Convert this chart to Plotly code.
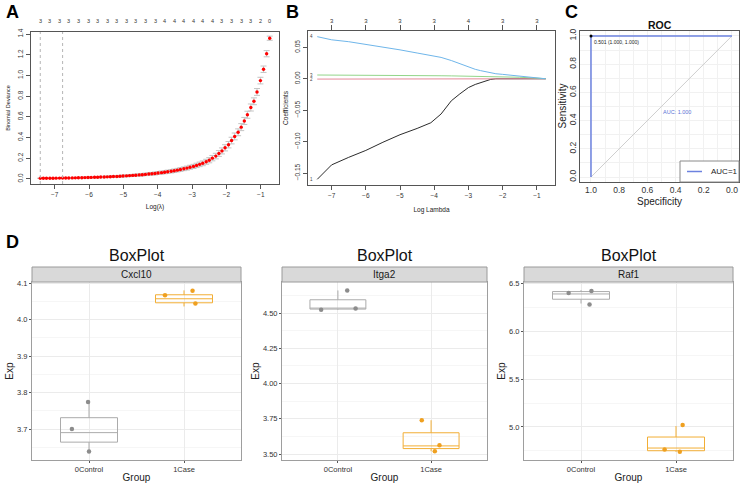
import plotly.graph_objects as go

W, H = 741, 483
FONT = "Liberation Sans, Arial, Helvetica, sans-serif"

# ---------------- Panel A : cv.glmnet deviance ----------------
log_lambda = [-7.42, -7.33, -7.24, -7.14, -7.05, -6.96, -6.86, -6.77, -6.68, -6.59,
              -6.49, -6.40, -6.31, -6.21, -6.12, -6.03, -5.94, -5.84, -5.75, -5.66,
              -5.56, -5.47, -5.38, -5.29, -5.19, -5.10, -5.01, -4.91, -4.82, -4.73,
              -4.64, -4.54, -4.45, -4.36, -4.26, -4.17, -4.08, -3.99, -3.89, -3.80,
              -3.71, -3.61, -3.52, -3.43, -3.34, -3.24, -3.15, -3.06, -2.96, -2.87,
              -2.78, -2.69, -2.59, -2.50, -2.41, -2.31, -2.22, -2.13, -2.04, -1.94,
              -1.85, -1.76, -1.66, -1.57, -1.48, -1.39, -1.29, -1.20, -1.11, -1.01,
              -0.92, -0.83, -0.74]
cv_mean = [0.005, 0.0052, 0.0054, 0.0057, 0.006, 0.0065, 0.007, 0.0075, 0.008, 0.0085,
           0.009, 0.0095, 0.010, 0.011, 0.012, 0.013, 0.014, 0.015, 0.016, 0.017,
           0.018, 0.019, 0.020, 0.022, 0.023, 0.025, 0.027, 0.029, 0.031, 0.033,
           0.035, 0.038, 0.040, 0.043, 0.046, 0.049, 0.052, 0.056, 0.060, 0.064,
           0.068, 0.073, 0.078, 0.084, 0.090, 0.097, 0.104, 0.112, 0.120, 0.130,
           0.140, 0.150, 0.165, 0.180, 0.200, 0.220, 0.245, 0.270, 0.300, 0.330,
           0.370, 0.410, 0.450, 0.500, 0.560, 0.620, 0.690, 0.750, 0.840, 0.950,
           1.060, 1.210, 1.360]
cv_se = [0.002, 0.002, 0.002, 0.002, 0.002, 0.002, 0.003, 0.003, 0.003, 0.003,
         0.003, 0.004, 0.004, 0.004, 0.004, 0.005, 0.005, 0.005, 0.006, 0.006,
         0.006, 0.007, 0.007, 0.007, 0.008, 0.008, 0.009, 0.009, 0.010, 0.010,
         0.011, 0.011, 0.012, 0.012, 0.013, 0.013, 0.014, 0.014, 0.015, 0.015,
         0.016, 0.016, 0.017, 0.017, 0.018, 0.018, 0.019, 0.019, 0.020, 0.021,
         0.022, 0.023, 0.024, 0.025, 0.026, 0.027, 0.028, 0.029, 0.030, 0.031,
         0.032, 0.033, 0.033, 0.034, 0.034, 0.034, 0.034, 0.033, 0.033, 0.032,
         0.031, 0.030, 0.020]
# number of non-zero coefficients, labelled at every 3rd lambda
nzero_top = [3, 3, 3, 3, 3, 3, 3, 3, 3, 3, 3, 3, 3,
             4, 4, 4, 4, 4, 4,
             3, 3, 3, 3, 2, 0]
lambda_min_idx = 0
lambda_1se_idx = 7
A_xticks = [-7, -6, -5, -4, -3, -2, -1]
A_yticks = [0.0, 0.2, 0.4, 0.6, 0.8, 1.0, 1.2, 1.4]

# ---------------- Panel B : coefficient paths ----------------
path_loglambda = [-7.42, -7.0, -6.5, -6.0, -5.5, -5.0, -4.5, -4.1, -3.8, -3.5,
                  -3.25, -3.0, -2.8, -2.65, -2.5, -2.35, -2.2, -2.0, -1.5, -1.0, -0.74]
coef_1 = [-0.160, -0.137, -0.125, -0.114, -0.101, -0.089, -0.079, -0.070, -0.056, -0.035,
          -0.024, -0.014, -0.009, -0.006, -0.003, -0.001, 0.0, 0.0, 0.0, 0.0, 0.0]
coef_2 = [-0.0005, -0.0005, -0.0005, -0.0005, -0.0005, -0.0005, -0.0005, -0.0005, -0.0005, -0.0005,
          -0.0004, -0.0003, -0.0002, -0.0001, 0.0, 0.0, 0.0, 0.0, 0.0, 0.0, 0.0]
coef_3 = [0.0060, 0.0060, 0.0059, 0.0058, 0.0056, 0.0054, 0.0052, 0.0050, 0.0048, 0.0046,
          0.0044, 0.0042, 0.0040, 0.0039, 0.0037, 0.0036, 0.0034, 0.0032, 0.0024, 0.0010, 0.0]
coef_4 = [0.067, 0.062, 0.059, 0.055, 0.051, 0.046, 0.041, 0.037, 0.034, 0.029,
          0.024, 0.018, 0.015, 0.013, 0.011, 0.0095, 0.008, 0.007, 0.004, 0.0015, 0.0]
coef_names = ["1", "2", "3", "4"]
coef_colors = ["#2b2b2b", "#E58A9A", "#93D68A", "#6FB6EA"]
B_xticks = [-7, -6, -5, -4, -3, -2, -1]
B_top_df = [3, 3, 3, 3, 4, 3, 3]
B_yticks = [-0.15, -0.10, -0.05, 0.00, 0.05]

# ---------------- Panel C : ROC ----------------
roc_spec = [1.0, 1.0, 0.0]
roc_sens = [0.0, 1.0, 1.0]
best_threshold = 0.501
best_spec, best_sens = 1.0, 1.0
auc_value = 1.0
C_ticks = [1.0, 0.8, 0.6, 0.4, 0.2, 0.0]

# ---------------- Panel D : box plots ----------------
genes = ["Cxcl10", "Itga2", "Raf1"]
groups = ["0Control", "1Case"]
box_q1 = {"Cxcl10": [3.664, 4.046], "Itga2": [4.528, 3.539], "Raf1": [6.335, 4.752]}
box_median = {"Cxcl10": [3.690, 4.057], "Itga2": [4.533, 3.558], "Raf1": [6.390, 4.780]}
box_q3 = {"Cxcl10": [3.731, 4.068], "Itga2": [4.594, 3.651], "Raf1": [6.415, 4.895]}
box_low = {"Cxcl10": [3.642, 4.036], "Itga2": [4.523, 3.520], "Raf1": [6.290, 4.740]}
box_high = {"Cxcl10": [3.774, 4.080], "Itga2": [4.660, 3.740], "Raf1": [6.430, 5.010]}
pts_exp = {
    "Cxcl10": [[3.774, 3.700, 3.638], [4.067, 4.079, 4.044]],
    "Itga2": [[4.523, 4.533, 4.660], [3.740, 3.562, 3.520]],
    "Raf1": [[6.400, 6.420, 6.280], [4.766, 4.740, 5.020]],
}
pts_jitter = {
    "Cxcl10": [[-0.01, -0.18, 0.00], [-0.20, 0.09, 0.12]],
    "Itga2": [[-0.18, 0.19, 0.10], [-0.10, 0.09, 0.04]],
    "Raf1": [[-0.13, 0.11, 0.09], [-0.12, 0.04, 0.07]],
}
D_yticks = {"Cxcl10": [3.7, 3.8, 3.9, 4.0, 4.1],
            "Itga2": [3.50, 3.75, 4.00, 4.25, 4.50],
            "Raf1": [5.0, 5.5, 6.0, 6.5]}
D_yfmt = {"Cxcl10": ".1f", "Itga2": ".2f", "Raf1": ".1f"}
D_yrange = {"Cxcl10": [3.615, 4.103], "Itga2": [3.458, 4.72], "Raf1": [4.655, 6.515]}
group_line = ["#ABABAB", "#F2AE35"]
group_point = ["#8C8C8C", "#EFA020"]


def px_x(p):
    return p / W


def px_y(p):
    return 1 - p / H


fig = go.Figure()

# ---- A traces
fig.add_trace(go.Scatter(
    x=log_lambda, y=cv_mean, mode="markers",
    marker=dict(color="#FF0000", size=3.4),
    error_y=dict(type="data", array=cv_se, color="#C4C4C4", thickness=1, width=3),
    xaxis="x", yaxis="y", showlegend=False, hoverinfo="skip"))

# ---- B traces
for name, vals, col in zip(coef_names, [coef_1, coef_2, coef_3, coef_4], coef_colors):
    fig.add_trace(go.Scatter(
        x=path_loglambda, y=vals, mode="lines", line=dict(color=col, width=1),
        xaxis="x2", yaxis="y2", showlegend=False, hoverinfo="skip"))
fig.add_trace(go.Scatter(
    x=B_xticks, y=[0] * len(B_xticks), mode="markers", marker=dict(opacity=0),
    xaxis="x8", yaxis="y2", showlegend=False, hoverinfo="skip"))

# ---- C traces
fig.add_trace(go.Scatter(
    x=[roc_spec[0], roc_spec[-1]], y=[roc_sens[0], roc_sens[-1]], mode="lines",
    line=dict(color="#CFCFCF", width=1), xaxis="x3", yaxis="y3",
    showlegend=False, hoverinfo="skip"))
ROC_BLUE = "#6C82DF"
fig.add_trace(go.Scatter(
    x=roc_spec, y=roc_sens, mode="lines", line=dict(color=ROC_BLUE, width=1.5),
    name="AUC=%g" % auc_value, xaxis="x3", yaxis="y3", showlegend=False, hoverinfo="skip"))
fig.add_trace(go.Scatter(
    x=[best_spec], y=[best_sens], mode="markers", marker=dict(color="black", size=3),
    xaxis="x3", yaxis="y3", showlegend=False, hoverinfo="skip"))

# ---- D traces
for k, g in enumerate(genes):
    ax = str(4 + k)
    for j, grp in enumerate(groups):
        fig.add_trace(go.Box(
            x=[j], q1=[box_q1[g][j]], median=[box_median[g][j]], q3=[box_q3[g][j]],
            lowerfence=[box_low[g][j]], upperfence=[box_high[g][j]],
            width=0.6, whiskerwidth=0, fillcolor="rgba(255,255,255,0)",
            line=dict(color=group_line[j], width=1), boxpoints=False,
            xaxis="x" + ax, yaxis="y" + ax, showlegend=False, hoverinfo="skip"))
        fig.add_trace(go.Scatter(
            x=[j + d for d in pts_jitter[g][j]], y=pts_exp[g][j], mode="markers",
            marker=dict(color=group_point[j], size=4.5),
            xaxis="x" + ax, yaxis="y" + ax, showlegend=False, hoverinfo="skip"))

base_ax = dict(showline=True, mirror=True, linecolor="#555555", linewidth=1,
               ticks="outside", ticklen=4, tickcolor="#555555", showgrid=False,
               zeroline=False, automargin=False,
               tickfont=dict(size=6.5, color="#333333", family=FONT))
xr = [-7.69, -0.47]

layout = dict(
    width=W, height=H, margin=dict(l=0, r=0, t=0, b=0),
    paper_bgcolor="white", plot_bgcolor="white",
    font=dict(family=FONT, color="#222222"),
    showlegend=False,
    # Panel A
    xaxis=dict(base_ax, domain=[px_x(31), px_x(279)], anchor="y", range=xr,
               tickvals=A_xticks,
               title=dict(text="Log(λ)", font=dict(size=6.5), standoff=7)),
    yaxis=dict(base_ax, domain=[px_y(184), px_y(32)], anchor="x", range=[-0.05, 1.42],
               tickvals=A_yticks, tickformat=".1f", tickangle=-90,
               title=dict(text="Binomial Deviance", font=dict(size=5.5), standoff=6)),
    # Panel B
    xaxis2=dict(base_ax, domain=[px_x(308), px_x(555)], anchor="y2", range=xr,
                tickvals=B_xticks,
                title=dict(text="Log Lambda", font=dict(size=6.5), standoff=9)),
    yaxis2=dict(base_ax, domain=[px_y(185), px_y(31)], anchor="x2", range=[-0.169, 0.076],
                tickvals=B_yticks, tickformat=".2f", tickangle=-90,
                title=dict(text="Coefficients", font=dict(size=6.5), standoff=5)),
    xaxis8=dict(overlaying="x2", anchor="y2", side="top", range=xr, showline=False,
                ticks="outside", ticklen=5, tickcolor="#555555",
                tickvals=B_xticks, ticktext=[str(v) for v in B_top_df],
                tickfont=dict(size=6, color="#333333"), showgrid=False,
                zeroline=False, automargin=False),
    # Panel C
    xaxis3=dict(base_ax, domain=[px_x(580), px_x(739)], anchor="y3", range=[1.078, -0.05],
                tickvals=C_ticks, tickformat=".1f", ticks="",
                tickfont=dict(size=8.5, color="#333333"),
                showgrid=True, gridcolor="#F1F1F1",
                minor=dict(dtick=0.1, showgrid=True, gridcolor="#F1F1F1")),
    yaxis3=dict(base_ax, domain=[px_y(182), px_y(31)], anchor="x3", range=[-0.035, 1.035],
                tickvals=C_ticks, tickformat=".1f", tickangle=-90, ticks="",
                tickfont=dict(size=8.5, color="#333333"),
                showgrid=True, gridcolor="#F1F1F1",
                minor=dict(dtick=0.1, showgrid=True, gridcolor="#F1F1F1")),
)

D_xdom = [(32, 241), (282, 487), (524, 733)]
for k, g in enumerate(genes):
    ax = str(4 + k)
    ticks_y = D_yticks[g]
    minor_vals = [(a + b) / 2 for a, b in zip(ticks_y[:-1], ticks_y[1:])]
    step = ticks_y[1] - ticks_y[0]
    minor_vals = [ticks_y[0] - step / 2] + minor_vals + [ticks_y[-1] + step / 2]
    layout["xaxis" + ax] = dict(
        domain=[px_x(D_xdom[k][0]), px_x(D_xdom[k][1])], anchor="y" + ax,
        range=[-0.6, 1.6], tickvals=[0, 1], ticktext=groups,
        showline=True, mirror=True, linecolor="#9E9E9E", linewidth=1,
        ticks="outside", ticklen=2, tickcolor="#555555",
        tickfont=dict(size=7.5, color="#333333"), showgrid=True, gridcolor="#EBEBEB",
        zeroline=False, automargin=False,
        title=dict(text="Group", font=dict(size=10, color="#222222"), standoff=0))
    layout["yaxis" + ax] = dict(
        domain=[px_y(460), px_y(282)], anchor="x" + ax, range=D_yrange[g],
        tickvals=ticks_y, tickformat=D_yfmt[g],
        showline=True, mirror=True, linecolor="#9E9E9E", linewidth=1,
        ticks="outside", ticklen=2, tickcolor="#555555",
        tickfont=dict(size=7.5, color="#333333"), showgrid=True, gridcolor="#EBEBEB",
        minor=dict(tickmode="array", tickvals=minor_vals, showgrid=True,
                   gridcolor="#F6F6F6", ticks=""),
        zeroline=False, automargin=False,
        title=dict(text="Exp", font=dict(size=10, color="#222222"), standoff=1))

fig.update_layout(**layout)

shapes = []
annotations = []

# Panel A: number of nonzero coefficients along the top
for xv, nz in zip(log_lambda[::3], nzero_top):
    annotations.append(dict(x=xv, y=px_y(21), xref="x", yref="paper", text=str(nz),
                            showarrow=False, yanchor="middle",
                            font=dict(size=5.5, color="#333333")))
# Panel A: lambda.min and lambda.1se dotted lines
for idx in [lambda_min_idx, lambda_1se_idx]:
    shapes.append(dict(type="line", xref="x", yref="y domain",
                       x0=log_lambda[idx], x1=log_lambda[idx], y0=0, y1=1,
                       line=dict(color="#B5B5B5", width=1, dash="dot")))

# Panel B: variable labels at left end of paths
for name, vals in zip(coef_names, [coef_1, coef_2, coef_3, coef_4]):
    annotations.append(dict(x=path_loglambda[0], y=vals[0], xref="x2", yref="y2",
                            text=name, showarrow=False, xanchor="right", xshift=-2,
                            font=dict(size=4.5, color="#444444")))

# Panel C: title, axis titles, threshold, AUC text and legend box
annotations.append(dict(x=0.5, y=px_y(25), xref="x3 domain", yref="paper",
                        yanchor="middle", text="<b>ROC</b>", showarrow=False,
                        font=dict(size=10.5, color="#111111")))
annotations.append(dict(x=0.5, y=px_y(201), xref="x3 domain", yref="paper",
                        yanchor="middle", text="Specificity", showarrow=False,
                        font=dict(size=10, color="#222222")))
annotations.append(dict(x=px_x(562), y=0.5, xref="paper", yref="y3 domain",
                        xanchor="center", yanchor="middle", textangle=-90,
                        text="Sensitivity", showarrow=False,
                        font=dict(size=10, color="#222222")))
annotations.append(dict(x=best_spec, y=best_sens, xref="x3", yref="y3",
                        text="%.3f (%.3f, %.3f)" % (best_threshold, best_spec, best_sens),
                        showarrow=False, xanchor="left", yanchor="top", xshift=1, yshift=-1,
                        font=dict(size=5, color="#222222")))
annotations.append(dict(x=0.5, y=0.5, xref="x3", yref="y3",
                        text="AUC: %.3f" % auc_value, showarrow=False,
                        xanchor="left", yanchor="top",
                        font=dict(size=5.5, color="#5B73D6")))
leg_x0, leg_y1 = (680 - 580) / 159, (182 - 161) / 151
shapes.append(dict(type="rect", xref="x3 domain", yref="y3 domain",
                   x0=leg_x0, x1=1, y0=0, y1=leg_y1,
                   fillcolor="white", line=dict(color="#8A8A8A", width=1)))
shapes.append(dict(type="line", xref="x3 domain", yref="y3 domain",
                   x0=(687 - 580) / 159, x1=(702 - 580) / 159,
                   y0=leg_y1 / 2, y1=leg_y1 / 2,
                   line=dict(color=ROC_BLUE, width=1.5)))
annotations.append(dict(x=(709 - 580) / 159, y=leg_y1 / 2, xref="x3 domain",
                        yref="y3 domain", text="AUC=%g" % auc_value, showarrow=False,
                        xanchor="left", yanchor="middle",
                        font=dict(size=8, color="#222222")))

# Panel D: strips and titles
strip_h = 15 / 178
for k, g in enumerate(genes):
    ax = str(4 + k)
    shapes.append(dict(type="rect", xref="x%s domain" % ax, yref="y%s domain" % ax,
                       x0=0, x1=1, y0=1, y1=1 + strip_h,
                       fillcolor="#D9D9D9", line=dict(color="#9A9A9A", width=1)))
    annotations.append(dict(x=0.5, y=1 + strip_h / 2, xref="x%s domain" % ax,
                            yref="y%s domain" % ax, text=g, showarrow=False,
                            yanchor="middle", font=dict(size=10, color="#1A1A1A")))
    annotations.append(dict(x=0.5, y=px_y(255), xref="x%s domain" % ax, yref="paper",
                            text="BoxPlot", showarrow=False, yanchor="middle",
                            font=dict(size=16, color="#111111")))

# Panel letters
for letter, (lx, ly) in zip(["A", "B", "C", "D"], [(12, 12), (292, 12), (571, 12), (12, 242)]):
    annotations.append(dict(x=px_x(lx), y=px_y(ly), xref="paper", yref="paper",
                            text="<b>%s</b>" % letter, showarrow=False,
                            xanchor="center", yanchor="middle",
                            font=dict(size=18, color="black")))

fig.update_layout(shapes=shapes, annotations=annotations)
fig.write_html("out.html", config={"displayModeBar": False},
               post_script="document.body.style.margin='0px';")
